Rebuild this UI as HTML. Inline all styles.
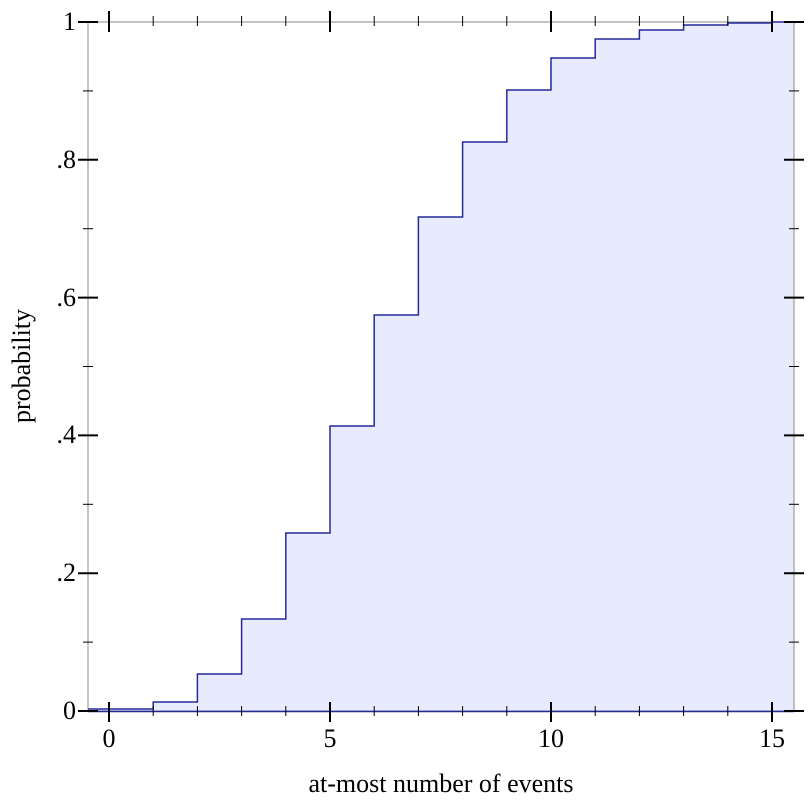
<!DOCTYPE html>
<html><head><meta charset="utf-8"><style>
html,body{margin:0;padding:0;background:#fff;}
svg{display:block;}
text{font-family:"Liberation Serif",serif;font-size:26px;fill:#000;}
</style></head><body>
<svg width="812" height="812" viewBox="0 0 812 812" xmlns="http://www.w3.org/2000/svg">
<path d="M88,711 V709 H153.2 V702 H197.4 V674 H241.6 V619 H285.8 V533 H330 V426 H374.2 V315 H418.4 V217 H462.6 V142 H506.8 V90 H551 V58 H595.2 V39 H639.4 V30 H683.6 V25 H727.8 V23 H772 V22 H794 V711 Z" fill="#e8ebfd" stroke="none"/>
<rect x="88" y="22" width="706" height="689" fill="none" stroke="#888" stroke-width="1"/>
<path d="M88,709 H153.2 V702 H197.4 V674 H241.6 V619 H285.8 V533 H330 V426 H374.2 V315 H418.4 V217 H462.6 V142 H506.8 V90 H551 V58 H595.2 V39 H639.4 V30 H683.6 V25 H727.8 V23 H772 V22 H794" fill="none" stroke="#252a9a" stroke-width="1.5"/>
<line x1="88" y1="711.5" x2="794" y2="711.5" stroke="#252a9a" stroke-width="1.5"/>
<g stroke="#000" stroke-width="1">
<line x1="109" y1="702" x2="109" y2="722" stroke-width="2"/>
<line x1="330" y1="702" x2="330" y2="722" stroke-width="2"/>
<line x1="551" y1="702" x2="551" y2="722" stroke-width="2"/>
<line x1="772" y1="702" x2="772" y2="722" stroke-width="2"/>
<line x1="153.2" y1="706" x2="153.2" y2="716"/><line x1="197.4" y1="706" x2="197.4" y2="716"/>
<line x1="241.6" y1="706" x2="241.6" y2="716"/><line x1="285.8" y1="706" x2="285.8" y2="716"/>
<line x1="374.2" y1="706" x2="374.2" y2="716"/><line x1="418.4" y1="706" x2="418.4" y2="716"/>
<line x1="462.6" y1="706" x2="462.6" y2="716"/><line x1="506.8" y1="706" x2="506.8" y2="716"/>
<line x1="595.2" y1="706" x2="595.2" y2="716"/><line x1="639.4" y1="706" x2="639.4" y2="716"/>
<line x1="683.6" y1="706" x2="683.6" y2="716"/><line x1="727.8" y1="706" x2="727.8" y2="716"/>
<line x1="109" y1="11" x2="109" y2="32" stroke-width="2"/>
<line x1="330" y1="11" x2="330" y2="32" stroke-width="2"/>
<line x1="551" y1="11" x2="551" y2="32" stroke-width="2"/>
<line x1="772" y1="11" x2="772" y2="32" stroke-width="2"/>
<line x1="153.2" y1="16" x2="153.2" y2="26"/><line x1="197.4" y1="16" x2="197.4" y2="26"/>
<line x1="241.6" y1="16" x2="241.6" y2="26"/><line x1="285.8" y1="16" x2="285.8" y2="26"/>
<line x1="374.2" y1="16" x2="374.2" y2="26"/><line x1="418.4" y1="16" x2="418.4" y2="26"/>
<line x1="462.6" y1="16" x2="462.6" y2="26"/><line x1="506.8" y1="16" x2="506.8" y2="26"/>
<line x1="595.2" y1="16" x2="595.2" y2="26"/><line x1="639.4" y1="16" x2="639.4" y2="26"/>
<line x1="683.6" y1="16" x2="683.6" y2="26"/><line x1="727.8" y1="16" x2="727.8" y2="26"/>
<g id="yt">
<line x1="78" y1="711" x2="98" y2="711" stroke-width="2"/>
<line x1="78" y1="573.2" x2="98" y2="573.2" stroke-width="2"/>
<line x1="78" y1="435.4" x2="98" y2="435.4" stroke-width="2"/>
<line x1="78" y1="297.6" x2="98" y2="297.6" stroke-width="2"/>
<line x1="78" y1="159.8" x2="98" y2="159.8" stroke-width="2"/>
<line x1="78" y1="22" x2="98" y2="22" stroke-width="2"/>
<line x1="83" y1="642.1" x2="93" y2="642.1"/><line x1="83" y1="504.3" x2="93" y2="504.3"/>
<line x1="83" y1="366.5" x2="93" y2="366.5"/><line x1="83" y1="228.7" x2="93" y2="228.7"/>
<line x1="83" y1="90.9" x2="93" y2="90.9"/>
</g>
<use href="#yt" transform="translate(706,0)"/>
</g>
<g text-anchor="end">
<text x="76" y="719">0</text>
<text x="76" y="581">.2</text>
<text x="76" y="443">.4</text>
<text x="76" y="306">.6</text>
<text x="76" y="168">.8</text>
<text x="76" y="30">1</text>
</g>
<g text-anchor="middle">
<text x="109" y="747">0</text>
<text x="330" y="747">5</text>
<text x="551" y="747">10</text>
<text x="772" y="747">15</text>
<text x="441" y="792">at-most number of events</text>
<text transform="translate(30,366) rotate(-90)">probability</text>
</g>
</svg>
</body></html>
